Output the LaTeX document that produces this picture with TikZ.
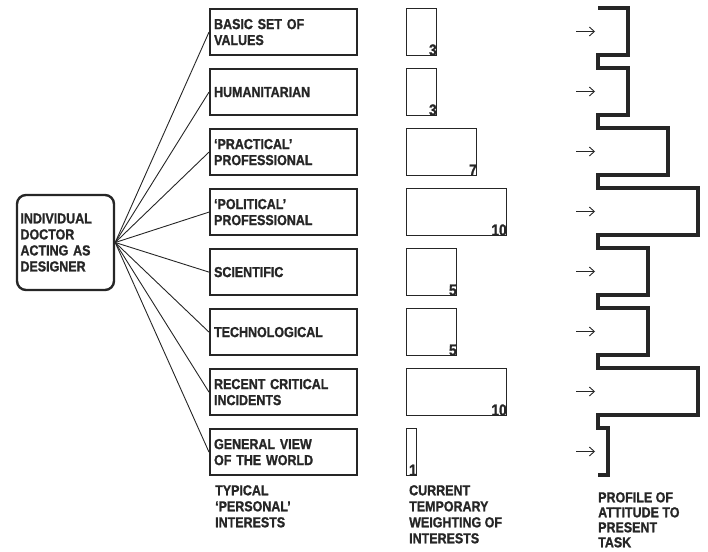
\documentclass[tikz,border=0pt]{standalone}
\usepackage{fontspec}
\setmainfont{Liberation Sans}[FakeStretch=0.86,BoldFeatures={FakeBold=1.2}]
\usetikzlibrary{arrows.meta,positioning}
\definecolor{Ink}{HTML}{262626}

\begin{document}
\begin{tikzpicture}[x=1pt,y=-1pt,
  every node/.style={font=\bfseries\fontsize{14.5}{16}\selectfont,text=Ink},
  doc/.style={draw=Ink,line width=2.4pt,rounded corners=9pt,minimum width=97pt,minimum height=95pt,text width=90pt,align=left,inner sep=3pt},
  interest/.style={draw=Ink,line width=2.2pt,minimum width=147pt,minimum height=46pt,text width=139pt,align=left,inner sep=4pt,anchor=north west},
  weight/.style={draw=Ink,line width=1.2pt,minimum height=47pt,inner sep=0pt,anchor=north west},
  tally/.style={font=\bfseries\fontsize{16}{16}\selectfont,inner sep=0.3pt,anchor=south east},
  caption/.style={align=left,anchor=north west,inner sep=0pt},
  fan/.style={draw=Ink,line width=0.9pt},
  profile/.style={draw=Ink,line width=4pt},
  pointer/.style={-{Straight Barb[length=5pt,width=9pt]},draw=Ink,line width=0.9pt}
]
\useasboundingbox (0,0) rectangle (708,551);

\node[doc] (doc) at (65.5,242.5) {INDIVIDUAL\\DOCTOR\\ACTING AS\\DESIGNER};

% interests and their weightings
\foreach \txt/\w [count=\i from 0] in {{BASIC SET OF\\VALUES}/3,HUMANITARIAN/3,{`PRACTICAL'\\PROFESSIONAL}/7,{`POLITICAL'\\PROFESSIONAL}/10,SCIENTIFIC/5,TECHNOLOGICAL/5,{RECENT CRITICAL\\INCIDENTS}/10,{GENERAL VIEW\\OF THE WORLD}/1} {
  \pgfmathsetmacro\ytop{8+60*\i}
  \node[interest] (int\i) at (209,\ytop) {\txt};
  \node[weight,minimum width=10*\w pt] (wt\i) at (406,\ytop) {};
  \node[tally] (tally\i) at (wt\i.south east) {\w};
  \draw[fan] (doc.east) -- (int\i.west);
  \coordinate (aim\i) at (595,{31.5+60*\i});
  \draw[pointer] ([xshift=-19pt]aim\i) -- (aim\i);
}

% profile of attitude
\draw[profile] (598,8) \foreach \w [count=\i from 0] in {3,3,7,10,5,5,10,1} {
  -- (598,{8+60*\i}) -- ({598+10*\w},{8+60*\i}) -- ({598+10*\w},{55+60*\i}) -- (598,{55+60*\i})
};

\node[caption] (capint) at (215,485) {TYPICAL\\`PERSONAL'\\INTERESTS};
\node[caption] (capwt) at (409,485) {CURRENT\\TEMPORARY\\WEIGHTING OF\\INTERESTS};
\node[caption,font=\bfseries\fontsize{14.5}{15}\selectfont] (capprof) at (598,492) {PROFILE OF\\ATTITUDE TO\\PRESENT\\TASK};
\end{tikzpicture}
\end{document}
